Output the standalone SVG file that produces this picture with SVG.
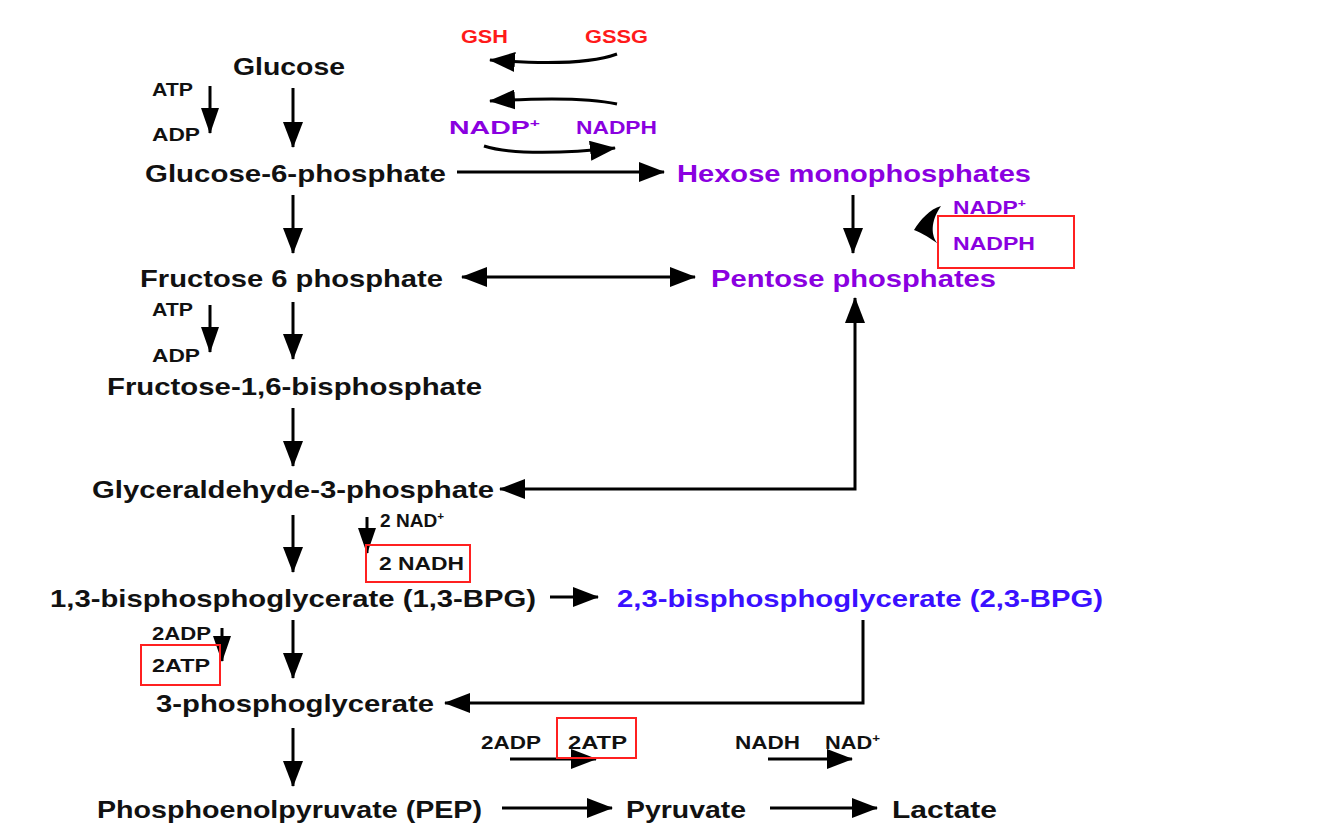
<svg xmlns="http://www.w3.org/2000/svg" width="1334" height="840" viewBox="0 0 1334 840">
<defs>
<marker id="ah" viewBox="0 0 26 20" refX="25" refY="10" markerWidth="26" markerHeight="20" markerUnits="userSpaceOnUse" orient="auto-start-reverse"><path d="M0,0 L26,10 L0,20 z" fill="#000"/></marker>
<marker id="ahs" viewBox="0 0 26 18" refX="25" refY="9" markerWidth="26" markerHeight="18" markerUnits="userSpaceOnUse" orient="auto"><path d="M0,0 L26,9 L0,18 z" fill="#000"/></marker>
</defs>
<style>
text{font-family:"Liberation Sans",Arial,sans-serif;font-weight:bold}
.m{font-size:24px;fill:#111}
.s{font-size:18px;fill:#111}
.p{fill:#8a00e0}
.b{fill:#3a10ff}
.r{fill:#ff1a1a}
.ln{stroke:#000;stroke-width:3;fill:none}
.box{fill:none;stroke:#ff2020;stroke-width:2}
</style>
<rect width="1334" height="840" fill="#fff"/>
<g id="connectors">
<path class="ln" d="M617,54 C590,64 540,64 490,60" marker-end="url(#ah)"/>
<path class="ln" d="M617,104 C590,98 540,98 490,101" marker-end="url(#ah)"/>
<path class="ln" d="M484,146 C510,155 570,153 615,148" marker-end="url(#ah)"/>
<line class="ln" x1="210" y1="86" x2="210" y2="133" marker-end="url(#ahs)"/>
<line class="ln" x1="293" y1="88" x2="293" y2="147" marker-end="url(#ah)"/>
<line class="ln" x1="457" y1="172" x2="664" y2="172" marker-end="url(#ah)"/>
<line class="ln" x1="853" y1="195" x2="853" y2="253" marker-end="url(#ah)"/>
<path d="M941,206 C930,209 920,220 914,230 C922,233 932,239 938,244 C931,236 930,222 941,206 z" fill="#000"/>
<line class="ln" x1="293" y1="195" x2="293" y2="253" marker-end="url(#ah)"/>
<line class="ln" x1="462" y1="277" x2="695" y2="277" marker-start="url(#ah)" marker-end="url(#ah)"/>
<line class="ln" x1="210" y1="305" x2="210" y2="352" marker-end="url(#ahs)"/>
<line class="ln" x1="293" y1="302" x2="293" y2="359" marker-end="url(#ah)"/>
<line class="ln" x1="293" y1="408" x2="293" y2="466" marker-end="url(#ah)"/>
<path class="ln" d="M855,298 L855,489 L500,489" marker-start="url(#ah)" marker-end="url(#ah)"/>
<line class="ln" x1="293" y1="515" x2="293" y2="572" marker-end="url(#ah)"/>
<line class="ln" x1="367" y1="517" x2="367" y2="553" marker-end="url(#ahs)"/>
<line class="ln" x1="550" y1="597" x2="598" y2="597" marker-end="url(#ah)"/>
<path class="ln" d="M863,620 L863,703 L445,703" marker-end="url(#ah)"/>
<line class="ln" x1="293" y1="620" x2="293" y2="678" marker-end="url(#ah)"/>
<line class="ln" x1="222" y1="628" x2="222" y2="661" marker-end="url(#ahs)"/>
<line class="ln" x1="293" y1="728" x2="293" y2="786" marker-end="url(#ah)"/>
<line class="ln" x1="510" y1="759" x2="596" y2="759" marker-end="url(#ah)"/>
<line class="ln" x1="768" y1="759" x2="852" y2="759" marker-end="url(#ah)"/>
<line class="ln" x1="502" y1="808" x2="612" y2="808" marker-end="url(#ah)"/>
<line class="ln" x1="770" y1="808" x2="877" y2="808" marker-end="url(#ah)"/>
</g>
<g id="gsh"><text class="s r" x="461" y="43" textLength="47" lengthAdjust="spacingAndGlyphs">GSH</text></g>
<g id="gssg"><text class="s r" x="585" y="43" textLength="63" lengthAdjust="spacingAndGlyphs">GSSG</text></g>
<g id="nadp1"><text class="s p" x="449" y="134" textLength="91" lengthAdjust="spacingAndGlyphs">NADP<tspan font-size="11" dy="-7">+</tspan></text></g>
<g id="nadph1"><text class="s p" x="576" y="134" textLength="81" lengthAdjust="spacingAndGlyphs">NADPH</text></g>
<g id="glucose"><text class="m" x="233" y="75" textLength="112" lengthAdjust="spacingAndGlyphs">Glucose</text></g>
<g id="atp1"><text class="s" x="152" y="96" textLength="41" lengthAdjust="spacingAndGlyphs">ATP</text></g>
<g id="adp1"><text class="s" x="152" y="141" textLength="48" lengthAdjust="spacingAndGlyphs">ADP</text></g>
<g id="g6p"><text class="m" x="145" y="182" textLength="301" lengthAdjust="spacingAndGlyphs">Glucose-6-phosphate</text></g>
<g id="hexose"><text class="m p" x="677" y="182" textLength="354" lengthAdjust="spacingAndGlyphs">Hexose monophosphates</text></g>
<g id="nadp2"><text class="s p" x="953" y="214" font-size="17" textLength="73" lengthAdjust="spacingAndGlyphs">NADP<tspan font-size="11" dy="-7">+</tspan></text></g>
<g id="nadph2"><rect class="box" x="938" y="216" width="136" height="52"/><text class="s p" x="953" y="250" textLength="82" lengthAdjust="spacingAndGlyphs">NADPH</text></g>
<g id="f6p"><text class="m" x="140" y="287" textLength="303" lengthAdjust="spacingAndGlyphs">Fructose 6 phosphate</text></g>
<g id="pentose"><text class="m p" x="711" y="287" textLength="285" lengthAdjust="spacingAndGlyphs">Pentose phosphates</text></g>
<g id="atp2"><text class="s" x="152" y="316" textLength="41" lengthAdjust="spacingAndGlyphs">ATP</text></g>
<g id="adp2"><text class="s" x="152" y="362" textLength="48" lengthAdjust="spacingAndGlyphs">ADP</text></g>
<g id="f16bp"><text class="m" x="107" y="395" textLength="375" lengthAdjust="spacingAndGlyphs">Fructose-1,6-bisphosphate</text></g>
<g id="g3p"><text class="m" x="92" y="498" textLength="402" lengthAdjust="spacingAndGlyphs">Glyceraldehyde-3-phosphate</text></g>
<g id="nad1"><text class="s" x="380" y="527" font-size="17" textLength="64" lengthAdjust="spacingAndGlyphs">2 NAD<tspan font-size="11" dy="-7">+</tspan></text></g>
<g id="nadh1"><rect class="box" x="366" y="545" width="104" height="37"/><text class="s" x="379" y="570" textLength="85" lengthAdjust="spacingAndGlyphs">2 NADH</text></g>
<g id="bpg13"><text class="m" x="50" y="607" textLength="486" lengthAdjust="spacingAndGlyphs">1,3-bisphosphoglycerate (1,3-BPG)</text></g>
<g id="bpg23"><text class="m b" x="617" y="607" textLength="486" lengthAdjust="spacingAndGlyphs">2,3-bisphosphoglycerate (2,3-BPG)</text></g>
<g id="adp3"><text class="s" x="152" y="640" textLength="59" lengthAdjust="spacingAndGlyphs">2ADP</text></g>
<g id="atp3"><rect class="box" x="141" y="645" width="79" height="40"/><text class="s" x="152" y="672" textLength="58" lengthAdjust="spacingAndGlyphs">2ATP</text></g>
<g id="pg3"><text class="m" x="156" y="712" textLength="278" lengthAdjust="spacingAndGlyphs">3-phosphoglycerate</text></g>
<g id="adp4"><text class="s" x="481" y="749" textLength="60" lengthAdjust="spacingAndGlyphs">2ADP</text></g>
<g id="atp4"><rect class="box" x="557" y="718" width="79" height="40"/><text class="s" x="568" y="749" textLength="59" lengthAdjust="spacingAndGlyphs">2ATP</text></g>
<g id="nadh2"><text class="s" x="735" y="749" textLength="65" lengthAdjust="spacingAndGlyphs">NADH</text></g>
<g id="nad2"><text class="s" x="825" y="749" textLength="55" lengthAdjust="spacingAndGlyphs">NAD<tspan font-size="11" dy="-7">+</tspan></text></g>
<g id="pep"><text class="m" x="97" y="818" textLength="385" lengthAdjust="spacingAndGlyphs">Phosphoenolpyruvate (PEP)</text></g>
<g id="pyruvate"><text class="m" x="626" y="818" textLength="120" lengthAdjust="spacingAndGlyphs">Pyruvate</text></g>
<g id="lactate"><text class="m" x="892" y="818" textLength="105" lengthAdjust="spacingAndGlyphs">Lactate</text></g>
</svg>
